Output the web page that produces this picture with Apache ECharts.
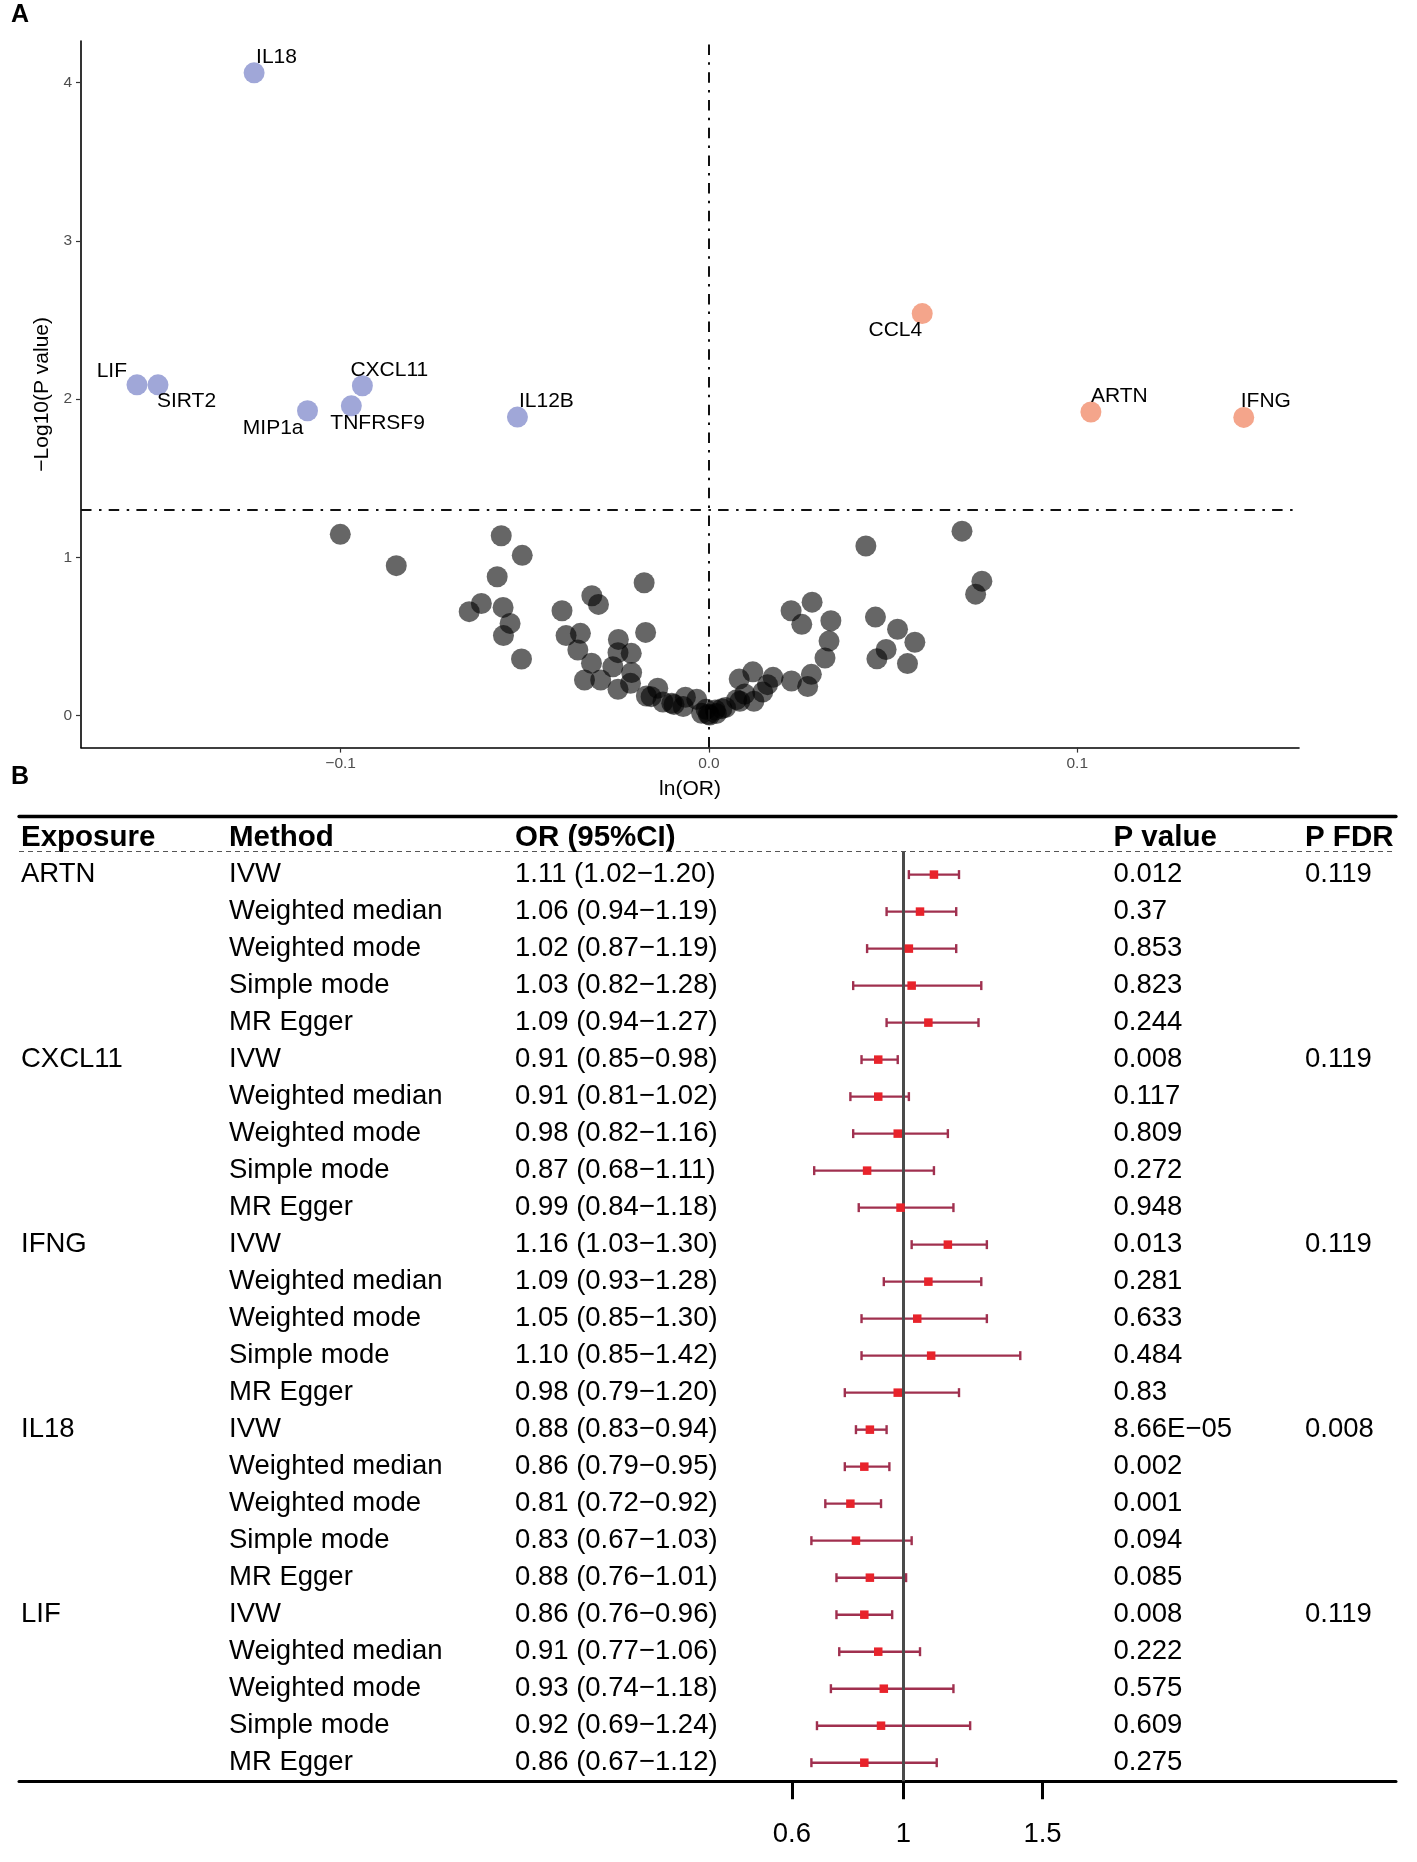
<!DOCTYPE html>
<html lang="en">
<head>
<meta charset="UTF-8">
<title>MR volcano and forest</title>
<script src="https://cdn.jsdelivr.net/npm/echarts@6.0.0/dist/echarts.min.js"></script>
<style>
  html, body { margin: 0; padding: 0; background: #fff; }
  #chartmain { width: 1417px; height: 1862px; }
</style>
</head>
<body>
<div id="chartmain"></div>
<script type="text/javascript">
// ---- panel A: volcano data ----
var sigNames = ['IL18', 'LIF', 'SIRT2', 'MIP1a', 'TNFRSF9', 'CXCL11', 'IL12B', 'CCL4', 'ARTN', 'IFNG'];
var sigLnOR  = [-0.1235, -0.1553, -0.1496, -0.1090, -0.0971, -0.0941, -0.0520, 0.0579, 0.1037, 0.1452];
var sigLogP  = [4.062, 2.090, 2.090, 1.926, 1.957, 2.084, 1.886, 2.540, 1.918, 1.884];

var nullLnOR = [-0.1001, -0.0849, -0.0564, -0.0507, -0.0575, -0.0618, -0.0651, -0.0559, -0.0540, -0.0558,
                -0.0509, -0.0399, -0.0388, -0.0349, -0.0356, -0.0318, -0.0300, -0.0176, -0.0172, -0.0246,
                -0.0247, -0.0211, -0.0319, -0.0261, -0.0210, -0.0338, -0.0294, -0.0247, -0.0213, -0.0170,
                -0.0139, -0.0157, -0.0101, -0.0064, -0.0033, -0.0070, -0.0020, 0.0002, -0.0008, 0.0017,
                -0.0125, -0.0095, 0.0020, 0.0045, 0.0075,
                0.0687, 0.0426, 0.0741, 0.0724, 0.0280, 0.0223, 0.0252, 0.0331, 0.0326, 0.0315,
                0.0452, 0.0512, 0.0559, 0.0481, 0.0456, 0.0539, 0.0278, 0.0224, 0.0268, 0.0174,
                0.0119, 0.0082, 0.0146, 0.0097, 0.0122, 0.0084, 0.0035, -0.0002, 0.0159];
var nullLogP = [1.145, 0.947, 1.136, 1.012, 0.877, 0.708, 0.656, 0.683, 0.582, 0.505,
                0.357, 0.662, 0.505, 0.519, 0.414, 0.757, 0.702, 0.839, 0.525, 0.481,
                0.397, 0.393, 0.330, 0.308, 0.271, 0.224, 0.224, 0.166, 0.203, 0.123,
                0.172, 0.119, 0.077, 0.115, 0.102, 0.056, 0.014, 0.003, 0.039, 0.035,
                0.085, 0.070, 0.012, 0.050, 0.100,
                1.165, 1.071, 0.849, 0.767, 0.716, 0.662, 0.576, 0.599, 0.470, 0.363,
                0.622, 0.545, 0.463, 0.417, 0.358, 0.328, 0.260, 0.218, 0.183, 0.241,
                0.276, 0.230, 0.148, 0.136, 0.090, 0.090, 0.043, 0.008, 0.195];
var xTicks = [-0.1, 0, 0.1];
var yTicks = [0, 1, 2, 3, 4];
var pCut = 0.05;

// ---- panel B: forest table data ----
var exposures = ['ARTN', 'CXCL11', 'IFNG', 'IL18', 'LIF'];
var methods = ['IVW', 'Weighted median', 'Weighted mode', 'Simple mode', 'MR Egger'];
var orVals = [1.11, 1.06, 1.02, 1.03, 1.09,
              0.91, 0.91, 0.98, 0.87, 0.99,
              1.16, 1.09, 1.05, 1.10, 0.98,
              0.88, 0.86, 0.81, 0.83, 0.88,
              0.86, 0.91, 0.93, 0.92, 0.86];
var loVals = [1.02, 0.94, 0.87, 0.82, 0.94,
              0.85, 0.81, 0.82, 0.68, 0.84,
              1.03, 0.93, 0.85, 0.85, 0.79,
              0.83, 0.79, 0.72, 0.67, 0.76,
              0.76, 0.77, 0.74, 0.69, 0.67];
var hiVals = [1.20, 1.19, 1.19, 1.28, 1.27,
              0.98, 1.02, 1.16, 1.11, 1.18,
              1.30, 1.28, 1.30, 1.42, 1.20,
              0.94, 0.95, 0.92, 1.03, 1.01,
              0.96, 1.06, 1.18, 1.24, 1.12];
var pVals = ['0.012', '0.37', '0.853', '0.823', '0.244',
             '0.008', '0.117', '0.809', '0.272', '0.948',
             '0.013', '0.281', '0.633', '0.484', '0.83',
             '8.66E\u221205', '0.002', '0.001', '0.094', '0.085',
             '0.008', '0.222', '0.575', '0.609', '0.275'];
var pFdr = ['0.119', '0.119', '0.119', '0.008', '0.119'];
var headers = ['Exposure', 'Method', 'OR (95%CI)', 'P value', 'P FDR'];
var orTicks = [0.6, 1, 1.5];

// ---- layout ----
var FONT = '"Liberation Sans", Arial, Helvetica, sans-serif';
var colX = [21, 229, 515, 1113.5, 1305];
var labelNudge = {
    IL18: ['left', 2, -16], LIF: ['right', -10, -14], SIRT2: ['left', -1, 16],
    CXCL11: ['left', -12, -16], MIP1a: ['right', -4, 17], TNFRSF9: ['left', -21, 17],
    IL12B: ['left', 1.5, -16], CCL4: ['right', 0, 17], ARTN: ['left', 0, -16], IFNG: ['left', -3, -16]
};

function fmt2(v) { return v.toFixed(2); }
function orText(i) { return fmt2(orVals[i]) + ' (' + fmt2(loVals[i]) + '\u2212' + fmt2(hiVals[i]) + ')'; }
function rowCells(r) {
    if (r < 0) return headers;
    var g = Math.floor(r / 5), first = r % 5 === 0;
    return [first ? exposures[g] : '', methods[r % 5], orText(r), pVals[r], first ? pFdr[g] : ''];
}

var nullData = nullLnOR.map(function (x, i) { return [x, nullLogP[i]]; });
function sigItem(i) {
    var n = labelNudge[sigNames[i]];
    return {
        name: sigNames[i], value: [sigLnOR[i], sigLogP[i]],
        label: { show: true, position: 'inside', align: n[0], verticalAlign: 'middle', offset: [n[1], n[2]] }
    };
}
var negData = [], posData = [];
sigNames.forEach(function (n, i) { (sigLnOR[i] < 0 ? negData : posData).push(sigItem(i)); });

var rows = [];
for (var r = -1; r < methods.length * exposures.length; r++) rows.push([1, r]);
var barData = orVals.map(function (v, i) { return [loVals[i], hiVals[i], i]; });
var sqData = orVals.map(function (v, i) { return [v, i]; });

// ggplot "dotdash"
var dotdash = [10.5, 7.5, 2.5, 7.2];
var ptLabel = { color: '#000', fontSize: 21, fontFamily: FONT };
var ruleY = -0.62;

var myChart = echarts.init(document.getElementById('chartmain'), null, { renderer: 'canvas' });
var option = {
    animation: false,
    backgroundColor: '#fff',
    textStyle: { fontFamily: FONT },
    title: [
        { text: 'A', left: 11, top: 3, padding: 0, textStyle: { fontSize: 25, fontWeight: 'bold', color: '#000', fontFamily: FONT } },
        { text: 'B', left: 11, top: 765, padding: 0, textStyle: { fontSize: 25, fontWeight: 'bold', color: '#000', fontFamily: FONT } }
    ],
    grid: [
        { left: 81, top: 41, width: 1218, height: 706.6 },
        { left: 19, right: 21, top: 816.5, height: 964.7 }
    ],
    xAxis: [
        {
            gridIndex: 0, type: 'value', min: -0.1705, max: 0.1602,
            name: 'ln(OR)', nameLocation: 'middle', nameGap: 31,
            nameTextStyle: { fontSize: 21, color: '#000', fontFamily: FONT },
            axisLine: { onZero: false, lineStyle: { color: '#000', width: 1.6 } },
            axisTick: { length: 5, lineStyle: { color: '#333', width: 1.2 }, customValues: xTicks },
            axisLabel: {
                customValues: xTicks, margin: 8, fontSize: 15.5, color: '#4d4d4d', fontFamily: FONT,
                formatter: function (v) { return (v < 0 ? '\u2212' : '') + Math.abs(v).toFixed(1); }
            },
            splitLine: { show: false }
        },
        {
            gridIndex: 1, type: 'value', min: -2.1752, max: 2.7691, position: 'bottom',
            axisLine: { onZero: false, lineStyle: { color: '#000', width: 3 } },
            axisTick: { length: 18, lineStyle: { color: '#000', width: 3 }, customValues: orTicks },
            axisLabel: { customValues: orTicks, margin: 39, fontSize: 27.5, color: '#000', fontFamily: FONT },
            splitLine: { show: false }
        },
        {
            gridIndex: 1, type: 'value', min: 0, max: 1, position: 'top',
            axisLine: { onZero: false, lineStyle: { color: '#000', width: 3.3 } },
            axisTick: { show: false }, axisLabel: { show: false }, splitLine: { show: false }
        }
    ],
    yAxis: [
        {
            gridIndex: 0, type: 'value', min: -0.203, max: 4.263,
            name: '\u2212Log10(P value)', nameLocation: 'middle', nameGap: 25,
            nameTextStyle: { fontSize: 21, color: '#000', fontFamily: FONT },
            axisLine: { show: true, onZero: false, lineStyle: { color: '#000', width: 1.6 } },
            axisTick: { show: true, length: 5, lineStyle: { color: '#333', width: 1.2 }, customValues: yTicks },
            axisLabel: { customValues: yTicks, margin: 9, fontSize: 15.5, color: '#4d4d4d', fontFamily: FONT },
            splitLine: { show: false }
        },
        {
            gridIndex: 1, type: 'value', inverse: true, min: -1.57, max: 24.5, show: false
        }
    ],
    series: [
        {
            type: 'scatter', xAxisIndex: 0, yAxisIndex: 0, data: nullData,
            symbolSize: 21, itemStyle: { color: 'rgba(0,0,0,0.75)' }, silent: true,
            markLine: {
                silent: true, symbol: 'none', label: { show: false },
                lineStyle: { color: '#111', width: 2, type: dotdash },
                data: [{ xAxis: 0 }, { yAxis: -Math.log10(pCut) }]
            }
        },
        {
            type: 'scatter', xAxisIndex: 0, yAxisIndex: 0, data: negData, silent: true,
            symbolSize: 21, itemStyle: { color: '#a0a7d8', opacity: 1 },
            label: Object.assign({ formatter: '{b}' }, ptLabel)
        },
        {
            type: 'scatter', xAxisIndex: 0, yAxisIndex: 0, data: posData, silent: true,
            symbolSize: 21, itemStyle: { color: '#f4a58b', opacity: 1 },
            label: Object.assign({ formatter: '{b}' }, ptLabel)
        },
        {
            type: 'custom', xAxisIndex: 1, yAxisIndex: 1, data: rows, silent: true, clip: false,
            encode: { x: 0, y: 1 },
            renderItem: function (params, api) {
                var r = api.value(1);
                var y = api.coord([1, r])[1];
                var font = r < 0 ? 'bold 29.5px ' + FONT : '27.5px ' + FONT;
                return {
                    type: 'group',
                    children: rowCells(r).map(function (t, c) {
                        return { type: 'text', x: colX[c], y: y,
                            style: { text: t, font: font, fill: '#000', textAlign: 'left', textVerticalAlign: 'middle' } };
                    })
                };
            }
        },
        {
            type: 'custom', xAxisIndex: 1, yAxisIndex: 1, data: barData, silent: true, z: 3,
            encode: { x: [0, 1], y: 2 },
            renderItem: function (params, api) {
                var row = api.value(2);
                var a = api.coord([api.value(0), row]);
                var b = api.coord([api.value(1), row]);
                var st = { stroke: '#a0304f', lineWidth: 2.4 };
                var h = 4.5;
                return {
                    type: 'group',
                    children: [
                        { type: 'line', shape: { x1: a[0], y1: a[1], x2: b[0], y2: b[1] }, style: st },
                        { type: 'line', shape: { x1: a[0], y1: a[1] - h, x2: a[0], y2: a[1] + h }, style: st },
                        { type: 'line', shape: { x1: b[0], y1: b[1] - h, x2: b[0], y2: b[1] + h }, style: st }
                    ]
                };
            }
        },
        {
            type: 'scatter', xAxisIndex: 1, yAxisIndex: 1, data: sqData, silent: true, z: 5,
            symbol: 'rect', symbolSize: 8.5, itemStyle: { color: '#e8232b', opacity: 1 },
            markLine: {
                silent: true, symbol: 'none', label: { show: false }, z: 4,
                data: [
                    [{ coord: [1, ruleY], lineStyle: { color: '#4a4a4a', width: 3, type: 'solid' } }, { coord: [1, 24.5] }],
                    { yAxis: ruleY, lineStyle: { color: '#555', width: 1.2, type: [5, 4] } }
                ]
            }
        }
    ]
};
myChart.setOption(option);
</script>
</body>
</html>
